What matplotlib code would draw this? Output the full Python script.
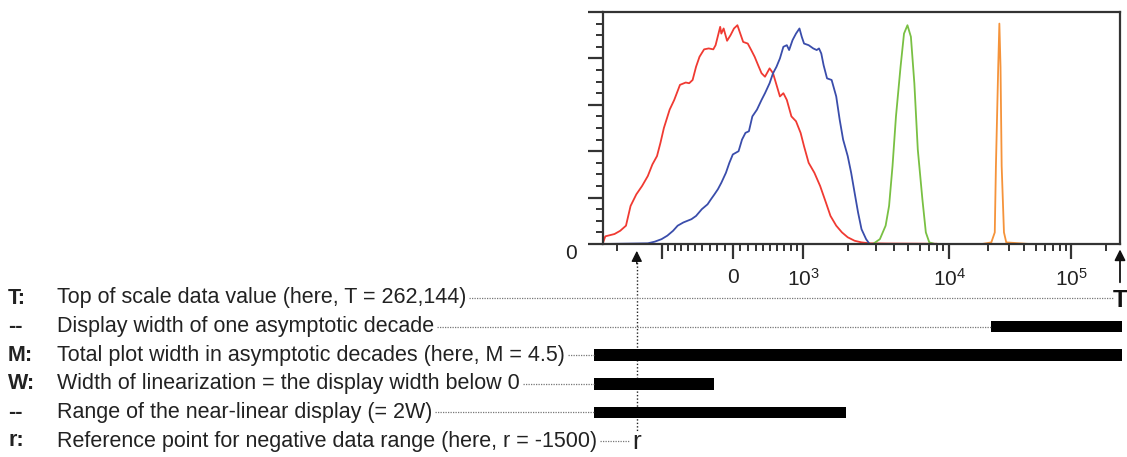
import numpy as np
import matplotlib
matplotlib.use("Agg")
import matplotlib.pyplot as plt
from matplotlib.lines import Line2D
from matplotlib.transforms import blended_transform_factory as blend

plt.rcParams["font.family"] = ["Liberation Sans", "DejaVu Sans"]
plt.rcParams["mathtext.fontset"] = "custom"
plt.rcParams["mathtext.rm"] = "Liberation Sans"

# logicle parameters
T_TOP = 262144
M_DEC = 4.5
R_REF = -1500

# histograms: x in logicle display units (asymptotic decades), y in % of peak
red_x = [0.0, 0.02, 0.10, 0.15, 0.20, 0.24, 0.29, 0.34, 0.39, 0.43, 0.47, 0.50, 0.53, 0.58,
         0.62, 0.67, 0.72, 0.75, 0.78, 0.81, 0.84, 0.88, 0.92, 0.96, 0.98, 1.02, 1.03, 1.05,
         1.08, 1.11, 1.14, 1.17, 1.19, 1.22, 1.26, 1.29, 1.32, 1.35, 1.38, 1.41, 1.45, 1.48,
         1.51, 1.54, 1.57, 1.60, 1.64, 1.68, 1.72, 1.75, 1.79, 1.84, 1.89, 1.94, 1.98, 2.03,
         2.08, 2.13, 2.19, 2.25, 2.32, 2.47, 2.90]
red_y = [0.5, 3.3, 4.3, 5.7, 7.9, 16.4, 21.4, 25.0, 29.3, 34.3, 37.9, 43.6, 50.0, 57.9,
         62.1, 68.6, 69.6, 69.3, 70.7, 76.4, 80.7, 83.9, 84.3, 83.9, 85.7, 93.6, 90.7, 92.9,
         87.6, 90.0, 92.9, 94.3, 91.4, 87.1, 86.4, 83.6, 80.7, 77.1, 73.6, 72.1, 75.7, 73.6,
         68.6, 63.6, 65.0, 62.1, 55.0, 52.9, 47.9, 42.1, 35.0, 30.7, 25.0, 17.9, 12.1, 7.9,
         5.0, 2.9, 1.4, 0.7, 0.3, 0.2, 0.1]

blue_x = [0.0, 0.39, 0.45, 0.51, 0.56, 0.61, 0.65, 0.70, 0.77, 0.81, 0.86, 0.91, 0.94, 0.97,
          1.00, 1.03, 1.07, 1.10, 1.13, 1.18, 1.21, 1.24, 1.27, 1.30, 1.34, 1.38, 1.41, 1.45,
          1.48, 1.51, 1.54, 1.57, 1.60, 1.62, 1.65, 1.68, 1.71, 1.73, 1.75, 1.79, 1.83, 1.86,
          1.88, 1.90, 1.92, 1.95, 1.99, 2.03, 2.06, 2.09, 2.13, 2.16, 2.19, 2.22, 2.25, 2.29,
          2.32, 2.38]
blue_y = [0.0, 0.3, 1.0, 2.1, 3.6, 5.7, 7.9, 9.3, 10.7, 12.1, 15.0, 17.1, 19.3, 21.4,
          23.6, 26.4, 30.7, 35.0, 38.6, 40.0, 45.0, 47.9, 48.6, 55.0, 57.9, 62.1, 65.0, 69.3,
          73.6, 76.4, 80.0, 85.0, 85.7, 83.6, 87.9, 90.7, 92.9, 89.3, 86.4, 85.7, 84.3, 83.6,
          84.3, 82.1, 77.1, 71.4, 70.7, 63.6, 53.6, 45.0, 37.9, 30.7, 22.1, 13.6, 6.4, 2.1,
          0.0, 0.0]

green_x = [0.0, 2.35, 2.41, 2.46, 2.49, 2.52, 2.55, 2.59, 2.62, 2.65, 2.68, 2.71, 2.74,
           2.78, 2.81, 2.84, 2.89, 4.5]
green_y = [0.0, 0.0, 2.1, 7.9, 16.4, 33.6, 55.0, 76.4, 90.7, 94.3, 89.3, 69.3, 40.7,
           19.3, 5.0, 0.7, 0.0, 0.0]

orange_x = [3.30, 3.38, 3.41, 3.42, 3.44, 3.45, 3.46, 3.47, 3.49, 3.51, 3.71]
orange_y = [0.0, 0.7, 5.0, 33.6, 76.4, 95.0, 76.4, 33.6, 5.0, 0.7, 0.0]

tick_values = [-1000, 0, 1000, 10000, 100000]
tick_labels = ["", "0", r"$\mathregular{10^3}$", r"$\mathregular{10^4}$", r"$\mathregular{10^5}$"]
minor_values = ([-2000] + list(range(-900, 0, 100)) + list(range(100, 1000, 100))
                + list(range(2000, 10000, 1000)) + list(range(20000, 100000, 10000)) + [200000])

keys = ["T:", "--", "M:", "W:", "--", "r:"]
descriptions = [
    "Top of scale data value (here, T = 262,144)",
    "Display width of one asymptotic decade",
    "Total plot width in asymptotic decades (here, M = 4.5)",
    "Width of linearization = the display width below 0",
    "Range of the near-linear display (= 2W)",
    "Reference point for negative data range (here, r = -1500)",
]
# bars, in display decades
bar_rows = [1, 2, 3, 4]
bar_start = [3.38, 0.0, 0.0, 0.0]
bar_end = [4.5, 4.5, 1.02, 2.15]


def logicle_channel(values, T, M, r):
    W = (M - np.log10(T / abs(r))) / 2
    wn, mn = W * np.log(10), M * np.log(10)
    ps = np.linspace(1.0001, 50, 200000)
    p = ps[np.argmin(np.abs(2 * ps * np.log(ps) / (ps + 1) - wn))]

    def pos(y):
        return T * np.exp(-(mn - wn)) * (np.exp(y - wn) - p**2 * np.exp(-(y - wn) / p) + p**2 - 1)

    grid = np.linspace(0, M, 40001)
    yn = grid * np.log(10)
    s = np.where(yn >= wn, pos(yn), -pos(2 * wn - yn))
    return np.interp(values, s, grid)


fig = plt.figure(figsize=(11.27, 4.57), dpi=100)
W_PX, H_PX = 1127, 457
ax = fig.add_axes([603 / W_PX, (H_PX - 244) / H_PX, 517 / W_PX, 232 / H_PX])
axb = fig.add_axes([594 / W_PX, (H_PX - 455.3) / H_PX, 528 / W_PX, 171.6 / H_PX])

lw = 1.3
ax.plot(red_x, red_y, color="#f03a32", lw=lw)
ax.plot(blue_x, blue_y, color="#3a4dab", lw=lw)
ax.plot(orange_x, orange_y, color="#f5933a", lw=lw)
ax.plot(green_x, green_y, color="#79c043", lw=lw)

ax.set_xlim(0, M_DEC)
ax.set_ylim(0, 100)
ax.set_xticks(logicle_channel(tick_values, T_TOP, M_DEC, R_REF))
ax.set_xticklabels(tick_labels, fontsize=15, color="#222")
ax.set_xticks(logicle_channel(minor_values, T_TOP, M_DEC, R_REF), minor=True)
ax.set_yticks([0, 20, 40, 60, 80, 100])
ax.set_yticklabels(["0", "", "", "", "", ""], fontsize=15, color="#222")
ax.set_yticks(np.arange(0, 101, 5), minor=True)
for lab in ax.get_yticklabels():
    lab.set_va("top")
ax.tick_params(which="major", direction="out", length=11, width=1.6, color="#333", pad=6)
ax.tick_params(which="minor", direction="out", length=5, width=1.4, color="#333")
ax.tick_params(axis="y", pad=8)
for sp in ax.spines.values():
    sp.set_linewidth(1.6)
    sp.set_color("#333")

# bars
axb.set_xlim(0, M_DEC)
axb.set_ylim(5.5, -0.5)
axb.axis("off")
axb.barh(bar_rows, np.array(bar_end) - np.array(bar_start), left=bar_start,
         height=0.4, color="black")

# text rows
trow = blend(fig.transFigure, axb.transData)
desc_txt = []
for i, (k, d) in enumerate(zip(keys, descriptions)):
    fig.text(8 / W_PX, i, k, transform=trow, fontsize=15.5, fontweight="bold",
             va="center", color="#222")
    desc_txt.append(fig.text(57 / W_PX, i, d, transform=trow, fontsize=15.5,
                             va="center", color="#222"))

# r and T markers in main-axis x, row y
txr = blend(ax.transData, axb.transData)
r_ch = logicle_channel(R_REF, T_TOP, M_DEC, R_REF)
ax.add_line(Line2D([r_ch, r_ch], [-1.35, 4.7], transform=txr, clip_on=False,
                   color="#222", lw=1.0, ls=(0, (1, 1.5))))
ax.annotate("", xy=(r_ch, -1.65), xytext=(r_ch, -1.2), xycoords=txr, textcoords=txr,
            arrowprops=dict(arrowstyle="-|>", color="#111", lw=1.0, mutation_scale=16,
                            shrinkA=0, shrinkB=0))
r_txt = ax.text(r_ch, 5.05, "r", transform=txr, fontsize=19, ha="center", va="center",
                color="#222", clip_on=False)
ax.annotate("", xy=(M_DEC, -1.7), xytext=(M_DEC, -0.55), xycoords=txr, textcoords=txr,
            arrowprops=dict(arrowstyle="-|>", color="#111", lw=1.3, mutation_scale=16,
                            shrinkA=0, shrinkB=0))
ax.text(M_DEC, 0.1, "T", transform=txr, fontsize=17, fontweight="bold", ha="center",
        va="center", color="#111", clip_on=False)

# dotted leaders from the end of each description
fig.canvas.draw()
rend = fig.canvas.get_renderer()
to_fig = fig.transFigure.inverted()
t_end = ax.transAxes.transform((1, 0))[0] - 7
r_start = r_txt.get_window_extent(rend).x0 - 2
ends = [t_end] + [axb.transData.transform((s, 0))[0] for s in bar_start] + [r_start]
for i, t in enumerate(desc_txt):
    bb = t.get_window_extent(rend)
    yd = axb.transData.transform((0, i))[1]
    (x0, y0), (x1, _) = to_fig.transform([(bb.x1 + 3, yd), (ends[i], yd)])
    fig.add_artist(Line2D([x0, x1], [y0, y0], transform=fig.transFigure,
                          color="#777", lw=0.9, ls=(0, (1, 1))))

fig.savefig("out.png", dpi=100)
